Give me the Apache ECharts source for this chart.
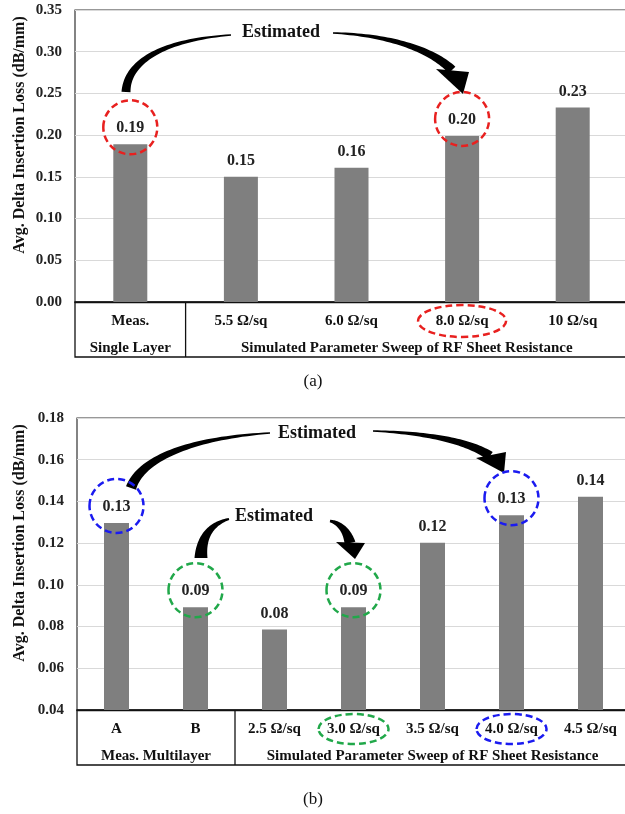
<!DOCTYPE html>
<html>
<head>
<meta charset="utf-8">
<script src="https://cdn.jsdelivr.net/npm/echarts/dist/echarts.min.js"></script>
<style>
html, body { margin: 0; padding: 0; background: #fff; }
#chart { width: 625px; height: 814px; }
</style>
</head>
<body>
<div id="chart"></div>
<script>
// chart (a)
const catsA = ['Meas.', '5.5 Ω/sq', '6.0 Ω/sq', '8.0 Ω/sq', '10 Ω/sq'];
const valsA = [0.189, 0.150, 0.161, 0.199, 0.233];
const groupsA = [['Single Layer', 0, 0], ['Simulated Parameter Sweep of RF Sheet Resistance', 1, 4]];
const circlesA = [[0, '#e8201f'], [3, '#e8201f']];
const catMarksA = [[3, '#e8201f']];

// chart (b)
const catsB = ['A', 'B', '2.5 Ω/sq', '3.0 Ω/sq', '3.5 Ω/sq', '4.0 Ω/sq', '4.5 Ω/sq'];
const valsB = [0.1297, 0.0893, 0.0786, 0.0893, 0.1202, 0.1334, 0.1422];
const groupsB = [['Meas. Multilayer', 0, 1], ['Simulated Parameter Sweep of RF Sheet Resistance', 2, 6]];
const circlesB = [[0, '#1b1bf0'], [5, '#1b1bf0'], [1, '#21a84a'], [3, '#21a84a']];
const catMarksB = [[3, '#21a84a'], [5, '#1b1bf0']];

const yName = 'Avg. Delta Insertion Loss (dB/mm)';
const FONT = '"Liberation Serif", "Times New Roman", serif';
const TABLE_H = 55;

let chart = echarts.init(document.getElementById('chart'));

function yAxisOf(gi, min, max, interval) {
    return {
        type: 'value', gridIndex: gi, min: min, max: max, interval: interval,
        axisLine: { show: false }, axisTick: { show: false },
        axisLabel: { fontFamily: FONT, fontWeight: 'bold', fontSize: 15, color: '#222', margin: 13,
            formatter: v => v.toFixed(2) },
        splitLine: { lineStyle: { color: '#d9d9d9', width: 1.2 } }
    };
}
function xAxisOf(gi, cats) {
    return {
        type: 'category', gridIndex: gi, data: cats,
        axisLine: { lineStyle: { color: '#111', width: 1.3 } },
        axisTick: { show: false },
        axisLabel: { interval: 0, margin: 12, fontFamily: FONT, fontWeight: 'bold', fontSize: 15, color: '#111' }
    };
}
function barOf(gi, vals, w) {
    return {
        type: 'bar', xAxisIndex: gi, yAxisIndex: gi, data: vals, barWidth: w,
        itemStyle: { color: '#7f7f7f' },
        label: { show: true, position: 'top', distance: 8, fontFamily: FONT, fontWeight: 'bold',
            fontSize: 16, color: '#222', formatter: p => p.value.toFixed(2) },
        silent: true
    };
}

let option = {
    backgroundColor: '#fff',
    animation: false,
    grid: [
        { left: 75, top: 10, width: 553, height: 292, show: true, borderColor: '#333', borderWidth: 1.2, outerBoundsMode: 'none' },
        { left: 77, top: 418, width: 553, height: 292, show: true, borderColor: '#333', borderWidth: 1.2, outerBoundsMode: 'none' }
    ],
    xAxis: [xAxisOf(0, catsA), xAxisOf(1, catsB)],
    yAxis: [yAxisOf(0, 0, 0.35, 0.05), yAxisOf(1, 0.04, 0.18, 0.02)],
    series: [barOf(0, valsA, 34), barOf(1, valsB, 25)]
};
chart.setOption(option);

function px(gi, i) { return chart.convertToPixel({ xAxisIndex: gi }, i); }
function py(gi, v) { return chart.convertToPixel({ yAxisIndex: gi }, v); }

function cubicTaper(p, w0, w1) {
    const L = [], R = [];
    for (let k = 0; k <= 40; k++) {
        const t = k / 40, m = 1 - t;
        const x = m*m*m*p[0][0] + 3*m*m*t*p[1][0] + 3*m*t*t*p[2][0] + t*t*t*p[3][0];
        const y = m*m*m*p[0][1] + 3*m*m*t*p[1][1] + 3*m*t*t*p[2][1] + t*t*t*p[3][1];
        const dx = 3*m*m*(p[1][0]-p[0][0]) + 6*m*t*(p[2][0]-p[1][0]) + 3*t*t*(p[3][0]-p[2][0]);
        const dy = 3*m*m*(p[1][1]-p[0][1]) + 6*m*t*(p[2][1]-p[1][1]) + 3*t*t*(p[3][1]-p[2][1]);
        const len = Math.sqrt(dx*dx + dy*dy) || 1;
        const w = (w0 + (w1 - w0) * t) / 2;
        L.push([x - dy/len*w, y + dx/len*w]);
        R.push([x + dy/len*w, y - dx/len*w]);
    }
    return L.concat(R.reverse());
}
function poly(points) {
    return { type: 'polygon', shape: { points: points }, style: { fill: '#000' }, silent: true };
}
function txt(x, y, s, font, rot) {
    return { type: 'text', x: x, y: y, rotation: rot || 0, silent: true,
        style: { text: s, font: font, fill: '#111', align: 'center', verticalAlign: 'middle',
            textAlign: 'center', textVerticalAlign: 'middle' } };
}
function dashed(cx, cy, rx, ry, color) {
    return { type: 'ellipse', shape: { cx: cx, cy: cy, rx: rx, ry: ry }, silent: true, z: 10,
        style: { fill: 'none', stroke: color, lineWidth: 2.5, lineDash: [7, 4] } };
}

function tableOf(gi, cats, vals, groups, circles, catMarks, rx, ry) {
    const out = [];
    const step = px(gi, 1) - px(gi, 0);
    const left = px(gi, 0) - step / 2;
    const right = px(gi, cats.length - 1) + step / 2;
    const yAx = chart.getOption().yAxis[gi];
    const axisY = py(gi, yAx.min);
    const topY = py(gi, yAx.max);
    out.push({ type: 'rect', shape: { x: left, y: axisY, width: right - left, height: TABLE_H }, silent: true,
        style: { fill: 'none', stroke: '#111', lineWidth: 1.3 } });
    groups.forEach((g, k) => {
        const a = px(gi, g[1]) - step / 2, b = px(gi, g[2]) + step / 2;
        if (k > 0) out.push({ type: 'line', shape: { x1: a, y1: axisY, x2: a, y2: axisY + TABLE_H }, silent: true,
            style: { stroke: '#111', lineWidth: 1.3 } });
        out.push(txt((a + b) / 2, axisY + 46, g[0], 'bold 15px ' + FONT));
    });
    circles.forEach(c => out.push(dashed(px(gi, c[0]), py(gi, vals[c[0]]) - 17, 27, 27, c[1])));
    catMarks.forEach(c => out.push(dashed(px(gi, c[0]), axisY + 19, rx, ry, c[1])));
    out.push(txt(20, topY + 125, yName, 'bold 16px ' + FONT, Math.PI / 2));
    return out;
}

let graphics = [];
graphics = graphics.concat(tableOf(0, catsA, valsA, groupsA, circlesA, catMarksA, 44, 16));
graphics = graphics.concat(tableOf(1, catsB, valsB, groupsB, circlesB, catMarksB, 35, 15));

// "Estimated" callouts
const estFont = 'bold 18px ' + FONT;
graphics.push(txt(281, 32, 'Estimated', estFont));
graphics.push(poly(cubicTaper([[231, 35], [162, 40], [127, 62], [126, 92]], 1.5, 9)));
graphics.push(poly(cubicTaper([[333, 33], [390, 35], [432, 50], [452, 70]], 1.5, 9.5)));
graphics.push(poly([[436, 69], [469, 72], [463, 94]]));

graphics.push(txt(317, 433, 'Estimated', estFont));
graphics.push(poly(cubicTaper([[270, 433], [192, 438], [141, 458], [131, 488]], 1.5, 10.5)));
graphics.push(poly(cubicTaper([[373, 431], [430, 433], [470, 442], [490, 456]], 1.5, 9.5)));
graphics.push(poly([[476, 458], [506, 452], [504, 473]]));

graphics.push(txt(274, 516, 'Estimated', estFont));
graphics.push(poly(cubicTaper([[229, 519], [210, 524], [201, 538], [201, 558]], 2, 13)));
graphics.push(poly(cubicTaper([[330, 521], [340, 523], [347, 531], [350, 543]], 2.5, 11)));
graphics.push(poly([[336, 542], [365, 543], [355, 559]]));

graphics.push(txt(313, 382, '(a)', '17px ' + FONT));
graphics.push(txt(313, 800, '(b)', '17px ' + FONT));

chart.setOption({ graphic: { elements: graphics } });
</script>
</body>
</html>
